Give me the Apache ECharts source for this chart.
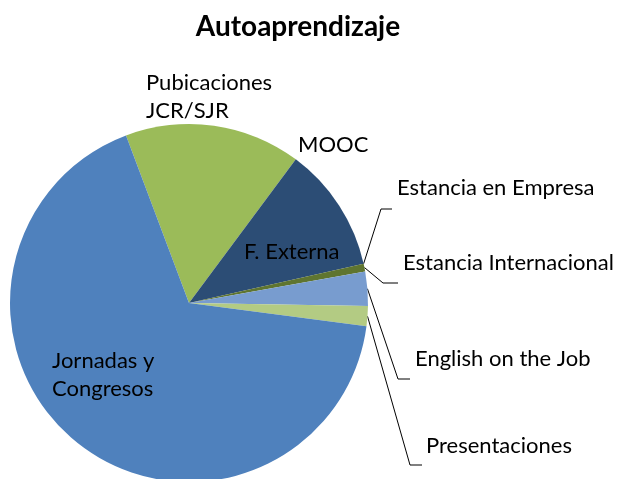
<!DOCTYPE html>
<html>
<head>
<meta charset="utf-8">
<script src="https://cdn.jsdelivr.net/npm/echarts@6/dist/echarts.min.js"></script>
<style>
html, body { margin: 0; padding: 0; background: #fff; }
#main { width: 619px; height: 479px; }
</style>
</head>
<body>
<div id="main"></div>
<script>
// slices in clockwise order, starting at the Pubicaciones slice
var categories = ['Pubicaciones\nJCR/SJR', 'MOOC', 'F. Externa', 'Estancia en Empresa',
    'Estancia Internacional', 'English on the Job', 'Presentaciones', 'Jornadas y\nCongresos'];
var values = [15.9, 0, 11.3, 0, 0.7, 3.1, 1.8, 67.2];
var colors = ['#9BBB59', '#2C4D75', '#2C4D75', '#5F7530', '#5F7530', '#789CCF', '#B3CB83', '#4F81BD'];

// where each label sits (left, middle) and the elbow/end of its leader line
var labelPos = [[146, 97], [298, 145], [244, 252], [397, 188], [403, 263], [415, 359], [426, 446], [52, 375]];
var leaderLines = [null, null, null, [[381, 209], [392, 209]], [[383, 283], [398, 283]],
    [[398, 379], [410, 379]], [[410, 465], [422, 465]], null];

var myChart = echarts.init(document.getElementById('main'));

var data = categories.map(function (name, i) {
    return {
        name: name,
        value: values[i],
        itemStyle: { color: colors[i] },
        labelLine: { show: !!leaderLines[i] }
    };
});

myChart.setOption({
    animation: false,
    title: {
        text: 'Autoaprendizaje',
        left: 293,
        top: 8,
        textAlign: 'center',
        textStyle: {
            fontFamily: 'Lato',
            fontSize: 28,
            fontWeight: 'bold',
            color: '#000'
        }
    },
    series: [{
        type: 'pie',
        center: [189, 303],
        radius: 179,
        startAngle: 110.6,
        clockwise: true,
        avoidLabelOverlap: false,
        emphasis: { disabled: true },
        itemStyle: { borderWidth: 0 },
        label: {
            show: true,
            position: 'outside',
            formatter: '{b}',
            fontFamily: 'Lato',
            fontSize: 22,
            lineHeight: 28,
            overflow: 'none',
            color: '#000'
        },
        labelLine: {
            lineStyle: { color: '#000', width: 1 }
        },
        labelLayout: function (params) {
            var i = params.dataIndex;
            var out = {
                x: labelPos[i][0],
                y: labelPos[i][1],
                align: 'left',
                verticalAlign: 'middle'
            };
            if (leaderLines[i] && params.labelLinePoints) {
                out.labelLinePoints = [params.labelLinePoints[0]].concat(leaderLines[i]);
            }
            return out;
        },
        data: data
    }]
});
</script>
</body>
</html>
